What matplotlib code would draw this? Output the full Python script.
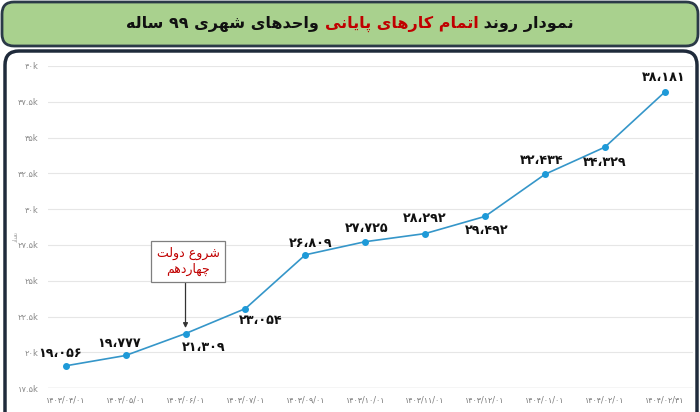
import matplotlib
matplotlib.use("Agg")
import matplotlib.pyplot as plt
from matplotlib.patches import FancyBboxPatch

# ---------------- data ----------------
dates = ["۱۴۰۳/۰۴/۰۱", "۱۴۰۳/۰۵/۰۱", "۱۴۰۳/۰۶/۰۱", "۱۴۰۳/۰۷/۰۱", "۱۴۰۳/۰۹/۰۱",
         "۱۴۰۳/۱۰/۰۱", "۱۴۰۳/۱۱/۰۱", "۱۴۰۳/۱۲/۰۱", "۱۴۰۴/۰۱/۰۱", "۱۴۰۴/۰۲/۰۱", "۱۴۰۴/۰۲/۳۱"]
values = [19056, 19777, 21309, 23054, 26809, 27725, 28292, 29492, 32434, 34329, 38181]
value_labels = ["۱۹،۰۵۶", "۱۹،۷۷۷", "۲۱،۳۰۹", "۲۳،۰۵۴", "۲۶،۸۰۹", "۲۷،۷۲۵",
                "۲۸،۲۹۲", "۲۹،۴۹۲", "۳۲،۴۳۴", "۳۴،۳۲۹", "۳۸،۱۸۱"]
label_offsets = [(-6, 12), (-7, 12), (18, -14), (15, -12), (5, 11), (1, 13),
                 (0, 15), (2, -14), (-3, 14), (0, -15), (-1, 14)]
yticks = [17500, 20000, 22500, 25000, 27500, 30000, 32500, 35000, 37500, 40000]
ytick_labels = ["۱۷.۵k", "۲۰k", "۲۲.۵k", "۲۵k", "۲۷.۵k", "۳۰k", "۳۲.۵k", "۳۵k", "۳۷.۵k", "۴۰k"]
title_parts = ["نمودار روند ", "اتمام کارهای پایانی", " واحدهای شهری ۹۹ ساله"]
annot_text = ["شروع دولت", "چهاردهم"]
annot_index = 2

# ---------------- simple Arabic/Persian shaping ----------------
FORMS = {  # isolated, final, initial, medial
    'ا': (0xFE8D, 0xFE8E, None, None), 'ب': (0xFE8F, 0xFE90, 0xFE91, 0xFE92),
    'پ': (0xFB56, 0xFB57, 0xFB58, 0xFB59), 'ت': (0xFE95, 0xFE96, 0xFE97, 0xFE98),
    'ث': (0xFE99, 0xFE9A, 0xFE9B, 0xFE9C), 'ج': (0xFE9D, 0xFE9E, 0xFE9F, 0xFEA0),
    'چ': (0xFB7A, 0xFB7B, 0xFB7C, 0xFB7D), 'ح': (0xFEA1, 0xFEA2, 0xFEA3, 0xFEA4),
    'خ': (0xFEA5, 0xFEA6, 0xFEA7, 0xFEA8), 'د': (0xFEA9, 0xFEAA, None, None),
    'ذ': (0xFEAB, 0xFEAC, None, None), 'ر': (0xFEAD, 0xFEAE, None, None),
    'ز': (0xFEAF, 0xFEB0, None, None), 'ژ': (0xFB8A, 0xFB8B, None, None),
    'س': (0xFEB1, 0xFEB2, 0xFEB3, 0xFEB4), 'ش': (0xFEB5, 0xFEB6, 0xFEB7, 0xFEB8),
    'ص': (0xFEB9, 0xFEBA, 0xFEBB, 0xFEBC), 'ض': (0xFEBD, 0xFEBE, 0xFEBF, 0xFEC0),
    'ط': (0xFEC1, 0xFEC2, 0xFEC3, 0xFEC4), 'ظ': (0xFEC5, 0xFEC6, 0xFEC7, 0xFEC8),
    'ع': (0xFEC9, 0xFECA, 0xFECB, 0xFECC), 'غ': (0xFECD, 0xFECE, 0xFECF, 0xFED0),
    'ف': (0xFED1, 0xFED2, 0xFED3, 0xFED4), 'ق': (0xFED5, 0xFED6, 0xFED7, 0xFED8),
    'ک': (0xFB8E, 0xFB8F, 0xFB90, 0xFB91), 'گ': (0xFB92, 0xFB93, 0xFB94, 0xFB95),
    'ل': (0xFEDD, 0xFEDE, 0xFEDF, 0xFEE0), 'م': (0xFEE1, 0xFEE2, 0xFEE3, 0xFEE4),
    'ن': (0xFEE5, 0xFEE6, 0xFEE7, 0xFEE8), 'و': (0xFEED, 0xFEEE, None, None),
    'ه': (0xFEE9, 0xFEEA, 0xFEEB, 0xFEEC), 'ی': (0xFBFC, 0xFBFD, 0xFBFE, 0xFBFF),
}


def shape(s):
    out = []
    n = len(s)
    for i, c in enumerate(s):
        if c not in FORMS:
            out.append(c)
            continue
        f = FORMS[c]
        prev_joins = i > 0 and s[i - 1] in FORMS and FORMS[s[i - 1]][2] is not None
        next_joins = i < n - 1 and s[i + 1] in FORMS and f[2] is not None
        if prev_joins and next_joins:
            code = f[3]
        elif prev_joins:
            code = f[1]
        elif next_joins:
            code = f[2]
        else:
            code = f[0]
        out.append(chr(code))
    return "".join(out)


def rtl(s):
    shaped = shape(s)[::-1]
    # restore left-to-right order of digit runs
    res, run = [], []
    for c in shaped:
        if c.isdigit():
            run.append(c)
        else:
            if run:
                res.extend(run[::-1]); run = []
            res.append(c)
    if run:
        res.extend(run[::-1])
    return "".join(res)


plt.rcParams['font.family'] = ['DejaVu Sans']

fig = plt.figure(figsize=(7, 4.12), dpi=100)

# background frames (pixel coords)
bg = fig.add_axes([0, 0, 1, 1], zorder=0)
bg.set_xlim(0, 700); bg.set_ylim(412, 0); bg.set_axis_off()
bg.add_patch(FancyBboxPatch((5, 51), 692, 380, boxstyle="round,pad=0,rounding_size=14",
                            fc="white", ec="#1f2b3b", lw=2.5))
bg.add_patch(FancyBboxPatch((2, 2), 696, 44, boxstyle="round,pad=0,rounding_size=12",
                            fc="#a9d18e", ec="#2b3a48", lw=2))

ax = fig.add_axes([0.069, 0.058, 0.921, 0.782], zorder=1)
ax.set_facecolor('none')
x = list(range(len(values)))
ax.plot(x, values, color="#3596c9", lw=1.2, marker='o', ms=4,
        mfc="#1e9ad8", mec="#1e9ad8", zorder=3)
ax.set_xlim(-0.29, 10.47)
ax.set_ylim(17500, 40000)
ax.set_yticks(yticks)
ax.set_yticklabels(ytick_labels, fontsize=6, color="#8a8a8a")
ax.set_xticks(x)
ax.set_xticklabels(dates, fontsize=5.8, color="#777777")
ax.tick_params(length=0, pad=7)
ax.tick_params(axis='x', pad=5)
ax.grid(axis='y', color="#e6e6e6", lw=0.8)
ax.axhline(17500, color="#d9d9d9", lw=1)
for s in ax.spines.values():
    s.set_visible(False)
ax.set_ylabel(rtl("تعداد"), fontsize=4, color="#999999")
ax.yaxis.set_label_coords(-0.046, 0.47)

for xi, v, lab, (dx, dy) in zip(x, values, value_labels, label_offsets):
    ax.annotate(lab, (xi, v), xytext=(dx * 0.72, dy * 0.72), textcoords='offset points',
                ha='center', va='center', fontsize=9.2, fontweight='bold', color='#111111',
                zorder=4)

# annotation box with arrow
ax.annotate("", xy=(annot_index, values[annot_index]), xytext=(0, 37),
            textcoords='offset points',
            arrowprops=dict(arrowstyle='-|>', color='#333333', lw=0.9,
                            shrinkA=0, shrinkB=4, mutation_scale=7))
ax.annotate(rtl(annot_text[0]) + "\n" + rtl(annot_text[1]),
            xy=(annot_index, values[annot_index]), xytext=(2, 52),
            textcoords='offset points', ha='center', va='center',
            fontsize=9, color='#c00000', linespacing=1.3,
            bbox=dict(boxstyle='square,pad=0.45', fc='white', ec='#7f7f7f', lw=0.9),
            zorder=5)

# title in three coloured pieces, visual order left->right
vis = [rtl(title_parts[2].strip()) + " ", rtl(title_parts[1]), " " + rtl(title_parts[0].strip())]
cols = ['#111111', '#c00000', '#111111']
arts = []
for txt, c in zip(vis, cols):
    t = fig.text(0, 1 - 24 / 412, txt, fontsize=11.5, fontweight='bold', color=c,
                 ha='left', va='center')
    arts.append(t)
fig.canvas.draw()
r = fig.canvas.get_renderer()
widths = [a.get_window_extent(r).width for a in arts]
total = sum(widths)
xs = 350 - total / 2
for a, w in zip(arts, widths):
    a.set_position((xs / 700, 1 - 24 / 412))
    xs += w

fig.savefig("out.png", dpi=100)
